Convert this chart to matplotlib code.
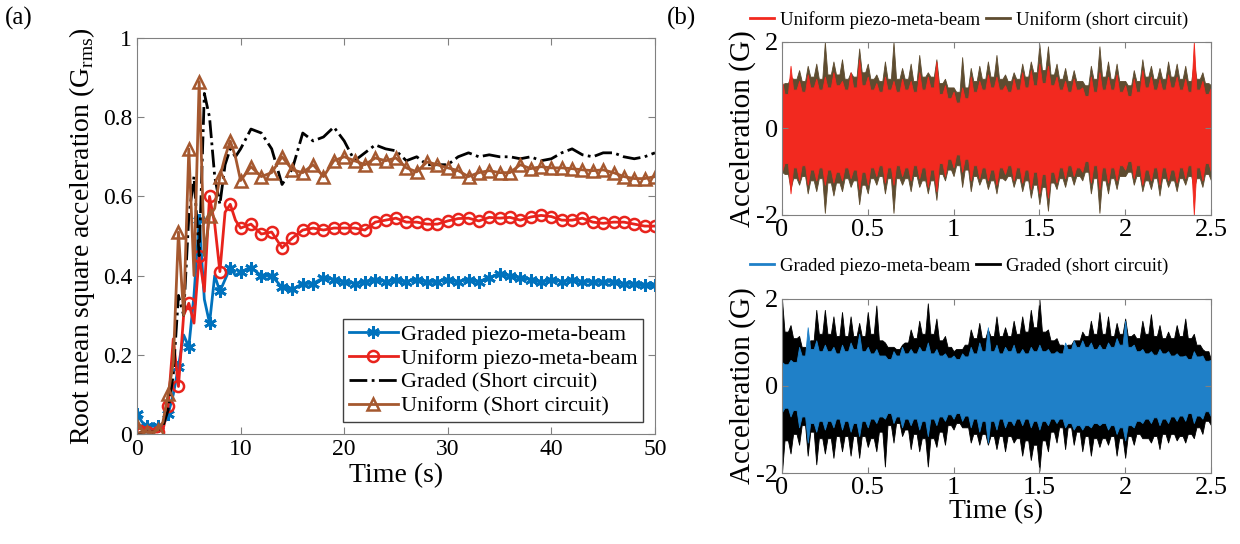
import numpy as np
import matplotlib.pyplot as plt
from matplotlib.lines import Line2D

plt.rcParams['font.family'] = ['Liberation Serif', 'DejaVu Serif']
plt.rcParams['mathtext.fontset'] = 'custom'
plt.rcParams['mathtext.rm'] = 'Liberation Serif'
plt.rcParams['axes.unicode_minus'] = False

# ---- panel (a): running RMS acceleration ----
t_rms = [0, 0.5, 1, 1.5, 2, 2.5, 3, 3.5, 4, 4.5, 5, 5.5, 6, 6.5, 7, 7.5, 8, 8.5, 9, 9.5,
         10, 11, 12, 13, 14, 15, 16, 17, 18, 19, 20, 21, 22, 23, 24, 25, 26, 27, 28, 29,
         30, 31, 32, 33, 34, 35, 36, 37, 38, 39, 40, 41, 42, 43, 44, 45, 46, 47, 48, 49, 50]
graded_piezo = [0.05, 0.03, 0.02, 0.02, 0.02, 0.02, 0.05, 0.10, 0.17, 0.25, 0.22, 0.35, 0.54, 0.34, 0.28, 0.40, 0.36, 0.39, 0.42, 0.40,
                0.41, 0.42, 0.40, 0.40, 0.37, 0.365, 0.38, 0.38, 0.395, 0.39, 0.385, 0.38, 0.385, 0.39, 0.385, 0.39, 0.385, 0.39, 0.385, 0.385,
                0.39, 0.385, 0.39, 0.385, 0.395, 0.405, 0.40, 0.395, 0.39, 0.385, 0.39, 0.385, 0.39, 0.385, 0.385, 0.385, 0.385, 0.38, 0.38, 0.375, 0.375]
uniform_piezo = [0.01, 0.02, 0.005, 0.005, 0.005, 0.01, 0.07, 0.24, 0.12, 0.30, 0.33, 0.28, 0.45, 0.36, 0.60, 0.53, 0.41, 0.56, 0.58, 0.54,
                 0.52, 0.53, 0.505, 0.51, 0.47, 0.495, 0.515, 0.52, 0.515, 0.52, 0.52, 0.52, 0.515, 0.535, 0.54, 0.545, 0.535, 0.535, 0.53, 0.53,
                 0.538, 0.544, 0.545, 0.538, 0.547, 0.545, 0.547, 0.54, 0.548, 0.552, 0.549, 0.54, 0.54, 0.545, 0.535, 0.532, 0.535, 0.535, 0.53, 0.525, 0.525]
graded_short = [0.0, 0.005, 0.005, 0.005, 0.01, 0.02, 0.06, 0.15, 0.35, 0.30, 0.55, 0.65, 0.45, 0.86, 0.80, 0.65, 0.58, 0.68, 0.72, 0.70,
                0.72, 0.77, 0.76, 0.72, 0.63, 0.67, 0.76, 0.74, 0.75, 0.775, 0.74, 0.69, 0.71, 0.73, 0.72, 0.715, 0.69, 0.70, 0.68, 0.68,
                0.68, 0.70, 0.71, 0.70, 0.705, 0.70, 0.70, 0.695, 0.70, 0.69, 0.695, 0.71, 0.72, 0.705, 0.70, 0.71, 0.71, 0.70, 0.695, 0.70, 0.71]
uniform_short = [0.02, 0.01, 0.005, 0.005, 0.01, 0.03, 0.10, 0.18, 0.51, 0.30, 0.72, 0.40, 0.89, 0.45, 0.55, 0.57, 0.65, 0.70, 0.74, 0.70,
                 0.64, 0.675, 0.65, 0.66, 0.70, 0.667, 0.66, 0.68, 0.65, 0.69, 0.70, 0.69, 0.68, 0.697, 0.69, 0.697, 0.672, 0.662, 0.687, 0.68,
                 0.672, 0.665, 0.65, 0.66, 0.665, 0.66, 0.66, 0.68, 0.67, 0.675, 0.672, 0.672, 0.67, 0.667, 0.665, 0.667, 0.66, 0.65, 0.645, 0.645, 0.65]

# ---- panel (b): acceleration signals ----
# peak values every 0.05 s (positive and negative)
t_sig = np.arange(0, 2.5001, 0.05)
uni_short_hi = [1.0, 1.2, 1.35, 1.45, 1.5, 2.0, 1.55, 1.6, 1.3, 1.85, 1.5, 1.25, 1.55, 2.0, 1.4, 1.5, 1.7, 1.3, 1.6, 1.15,
                0.95, 1.65, 1.4, 1.45, 1.55, 1.7, 1.25, 1.3, 1.5, 1.55, 1.95, 1.9, 1.5, 1.4, 1.35, 1.1, 1.45, 1.9, 1.55, 1.5,
                1.1, 1.35, 1.6, 1.45, 1.4, 1.55, 1.5, 1.45, 1.55, 1.3, 1.0]
uni_short_lo = [-1.0, -1.4, -1.3, -1.5, -1.45, -1.95, -1.55, -1.45, -1.35, -1.75, -1.5, -1.3, -1.5, -1.95, -1.3, -1.45, -1.35, -1.5, -1.65, -1.2,
                -1.1, -1.35, -1.45, -1.3, -1.4, -1.5, -1.2, -1.35, -1.45, -1.6, -1.75, -1.9, -1.4, -1.35, -1.3, -1.2, -1.5, -1.95, -1.5, -1.4,
                -1.1, -1.3, -1.45, -1.4, -1.55, -1.35, -1.45, -1.3, -1.4, -1.35, -1.2]
uni_piezo_hi = [1.1, 1.45, 1.1, 1.25, 1.15, 1.2, 1.3, 1.1, 1.3, 1.6, 1.2, 1.05, 1.2, 1.1, 1.15, 1.1, 1.3, 1.2, 1.55, 1.0,
                0.85, 0.95, 1.2, 1.1, 1.25, 1.2, 1.0, 1.15, 1.3, 1.35, 1.5, 1.45, 1.2, 1.1, 1.15, 0.95, 1.2, 1.3, 1.2, 1.25,
                1.0, 1.15, 1.35, 1.2, 1.15, 1.25, 1.2, 1.15, 2.0, 1.1, 0.95]
uni_piezo_lo = [-1.0, -1.5, -1.2, -1.3, -1.2, -1.3, -1.25, -1.2, -1.15, -1.4, -1.3, -1.1, -1.25, -1.3, -1.1, -1.2, -1.15, -1.35, -1.45, -1.1,
                -0.9, -1.0, -1.2, -1.15, -1.2, -1.3, -1.05, -1.2, -1.25, -1.4, -1.5, -1.6, -1.25, -1.15, -1.1, -1.0, -1.25, -1.4, -1.25, -1.2,
                -0.95, -1.15, -1.3, -1.2, -1.3, -1.2, -1.25, -1.15, -2.0, -1.2, -1.0]
gra_short_hi = [2.0, 1.4, 1.15, 0.8, 1.75, 1.75, 1.6, 1.7, 1.6, 1.45, 1.7, 1.85, 1.0, 0.9, 0.95, 1.3, 1.5, 1.9, 1.55, 1.15,
                0.8, 0.85, 1.3, 1.45, 1.3, 1.6, 1.35, 1.5, 1.6, 1.75, 2.0, 1.3, 1.1, 0.9, 1.05, 1.25, 1.5, 1.7, 1.6, 1.45,
                1.55, 1.2, 1.5, 1.65, 1.4, 1.25, 1.4, 1.55, 1.2, 0.85, 0.6]
gra_short_lo = [-2.0, -1.55, -1.35, -1.6, -1.8, -1.55, -1.65, -1.5, -1.6, -1.65, -1.4, -1.5, -1.85, -1.3, -1.15, -1.45, -1.5, -1.85, -1.4, -1.35,
                -1.0, -0.95, -1.3, -1.35, -1.35, -1.45, -1.5, -1.3, -1.6, -1.7, -1.95, -1.5, -1.3, -1.45, -1.35, -1.5, -1.6, -1.4, -1.35, -1.6,
                -1.65, -1.35, -1.2, -1.3, -1.45, -1.3, -1.25, -1.3, -1.2, -1.1, -0.9]
gra_piezo_hi = [0.55, 0.6, 0.9, 1.35, 1.05, 0.95, 0.9, 0.95, 1.0, 1.2, 0.9, 0.85, 0.7, 0.8, 0.9, 0.85, 0.9, 1.0, 0.85, 0.75,
                0.7, 0.75, 0.9, 1.0, 1.35, 0.95, 0.9, 0.95, 0.85, 0.9, 0.95, 0.85, 0.8, 1.0, 1.05, 1.05, 1.0, 0.95, 1.0, 1.1,
                1.5, 0.95, 0.85, 0.8, 0.85, 0.8, 0.75, 0.7, 0.8, 0.7, 0.6]
gra_piezo_lo = [-0.6, -0.7, -0.95, -1.3, -1.05, -1.0, -0.95, -1.0, -1.05, -1.15, -0.95, -0.85, -0.75, -0.85, -0.95, -0.9, -1.0, -1.15, -0.9, -0.8,
                -0.75, -0.8, -0.95, -1.05, -1.3, -1.0, -0.95, -0.9, -0.9, -0.95, -1.0, -0.9, -0.85, -0.95, -1.0, -1.0, -0.95, -0.9, -1.0, -1.1,
                -1.25, -0.95, -0.85, -0.85, -0.9, -0.85, -0.8, -0.8, -0.85, -0.75, -0.7]
# amplitude of the solid body between peaks (one value per 0.05 s interval)
uni_short_body = [1.05, 1.15, 1.1, 1.2, 1.15, 1.25, 1.25, 1.15, 1.2, 1.3, 1.15, 1.1, 1.15, 1.15, 1.15, 1.1, 1.2, 1.2, 1.05, 0.95,
                  0.85, 0.95, 1.1, 1.15, 1.2, 1.15, 1.1, 1.15, 1.2, 1.3, 1.35, 1.25, 1.15, 1.1, 1.1, 1.0, 1.15, 1.2, 1.15, 1.1,
                  1.0, 1.1, 1.2, 1.15, 1.15, 1.2, 1.15, 1.1, 1.15, 1.05]
uni_piezo_body = [0.8, 0.9, 0.85, 0.95, 0.9, 0.95, 1.0, 0.9, 0.95, 1.0, 0.9, 0.85, 0.9, 0.85, 0.9, 0.85, 0.9, 0.95, 0.8, 0.7,
                  0.6, 0.7, 0.85, 0.9, 0.95, 0.9, 0.85, 0.9, 0.95, 1.0, 1.05, 1.0, 0.9, 0.85, 0.9, 0.75, 0.85, 0.9, 0.9, 0.85,
                  0.75, 0.85, 0.95, 0.9, 0.9, 0.95, 0.9, 0.85, 0.9, 0.8]
gra_short_body = [1.25, 1.1, 0.9, 1.05, 1.2, 1.2, 1.15, 1.15, 1.15, 1.15, 1.2, 1.05, 0.9, 0.85, 1.0, 1.1, 1.2, 1.2, 1.05, 0.9,
                  0.85, 0.95, 1.1, 1.1, 1.15, 1.15, 1.15, 1.2, 1.25, 1.35, 1.25, 1.05, 0.95, 0.95, 1.05, 1.15, 1.2, 1.2, 1.15, 1.2,
                  1.15, 1.1, 1.2, 1.15, 1.1, 1.1, 1.15, 1.1, 0.95, 0.8]
gra_piezo_body = [0.5, 0.55, 0.7, 0.85, 0.8, 0.8, 0.75, 0.8, 0.85, 0.8, 0.75, 0.7, 0.62, 0.7, 0.75, 0.75, 0.8, 0.75, 0.7, 0.65,
                  0.62, 0.68, 0.75, 0.8, 0.8, 0.75, 0.8, 0.75, 0.75, 0.8, 0.8, 0.75, 0.75, 0.85, 0.9, 0.9, 0.85, 0.85, 0.9, 0.95,
                  0.9, 0.8, 0.75, 0.72, 0.75, 0.7, 0.68, 0.62, 0.68, 0.58]

c_blue = '#0072BD'
c_red = '#E8231C'
c_black = '#000000'
c_brown = '#A5582F'
c_brown_b = '#5E4C30'
c_red_b = '#F2291F'
c_blue_b = '#1F80C8'
frame_c = '#808080'

fig = plt.figure(figsize=(12.4, 5.44), dpi=100)

ax = fig.add_axes([0.1105, 0.2022, 0.4177, 0.728])
t_rms = np.array(t_rms)
mk = list(t_rms % 1 == 0)
ax.plot(t_rms, graded_piezo, color=c_blue, lw=2, marker=(6, 2, 0), ms=9, mew=2,
        markevery=mk, label='Graded piezo-meta-beam')
ax.plot(t_rms, uniform_piezo, color=c_red, lw=2, marker='o', ms=8, mfc='none', mew=1.8,
        markevery=mk, label='Uniform piezo-meta-beam')
ax.plot(t_rms, graded_short, color=c_black, lw=2, ls='-.', label='Graded (Short circuit)')
ax.plot(t_rms, uniform_short, color=c_brown, lw=2, marker='^', ms=8, mfc='none', mew=1.8,
        markevery=mk, label='Uniform (Short circuit)')
ax.set_xlim(0, 50)
ax.set_ylim(0, 1)
ax.set_xticks([0, 10, 20, 30, 40, 50])
ax.set_yticks([0, 0.2, 0.4, 0.6, 0.8, 1])
ax.set_yticklabels(['0', '0.2', '0.4', '0.6', '0.8', '1'])
ax.set_xlabel('Time (s)', fontsize=20, labelpad=2)
ax.set_ylabel('Root mean square acceleration (G$_{\\mathrm{rms}}$)', fontsize=20, labelpad=4)
ax.tick_params(direction='in', top=True, right=True, labelsize=17, color=frame_c, length=5)
for s in ax.spines.values():
    s.set_color(frame_c)
leg = ax.legend(loc='lower right', bbox_to_anchor=(0.977, 0.03), fontsize=16, fancybox=False,
                edgecolor='#404040', framealpha=1, handlelength=2.2, borderpad=0.25,
                labelspacing=0.15, handletextpad=0.15, borderaxespad=0)
leg.get_frame().set_linewidth(1.0)


def spiky(hi, lo, body):
    # narrow peaks at each sample, solid body in between
    xs, up, dn = [], [], []
    for i in range(len(t_sig)):
        xs.append(t_sig[i]); up.append(hi[i]); dn.append(lo[i])
        if i < len(body):
            xs += [t_sig[i] + 0.015, t_sig[i] + 0.035]
            up += [body[i], body[i]]
            dn += [-body[i], -body[i]]
    return np.array(xs), np.array(up), np.array(dn)


def sig_axes(rect, hi1, lo1, body1, c1, hi2, lo2, body2, c2, labels, leg_y):
    a = fig.add_axes(rect)
    for hi, lo, body, c in [(hi1, lo1, body1, c1), (hi2, lo2, body2, c2)]:
        xs, up, dn = spiky(hi, lo, body)
        a.fill_between(xs, dn, up, color=c, lw=0.6, edgecolor=c)
    a.set_xlim(0, 2.5)
    a.set_ylim(-2, 2)
    a.set_xticks([0, 0.5, 1, 1.5, 2, 2.5])
    a.set_xticklabels(['0', '0.5', '1', '1.5', '2', '2.5'])
    a.set_yticks([-2, 0, 2])
    a.set_ylabel('Acceleration (G)', fontsize=21, labelpad=0)
    a.tick_params(direction='in', top=True, right=True, labelsize=19, color=frame_c, length=4, pad=3)
    for s in a.spines.values():
        s.set_color(frame_c)
    handles = [Line2D([], [], color=c2, lw=2), Line2D([], [], color=c1, lw=2)]
    a.legend(handles, labels, loc='lower left', bbox_to_anchor=(-0.075, leg_y), ncol=2,
             frameon=False, fontsize=13.5, handlelength=1.3, handletextpad=0.3,
             columnspacing=0.3, borderaxespad=0, borderpad=0)
    return a


sig_axes([0.6306, 0.6048, 0.346, 0.318], uni_short_hi, uni_short_lo, uni_short_body, c_brown_b,
         uni_piezo_hi, uni_piezo_lo, uni_piezo_body, c_red_b,
         ['Uniform piezo-meta-beam', 'Uniform (short circuit)'], 1.075)
ab = sig_axes([0.6306, 0.1305, 0.346, 0.3199], gra_short_hi, gra_short_lo, gra_short_body, c_black,
              gra_piezo_hi, gra_piezo_lo, gra_piezo_body, c_blue_b,
              ['Graded piezo-meta-beam', 'Graded (short circuit)'], 1.14)
ab.set_xlabel('Time (s)', fontsize=20, labelpad=0)

fig.text(0.004, 0.955, '(a)', fontsize=18)
fig.text(0.538, 0.955, '(b)', fontsize=18)

fig.savefig('out.png', dpi=100)
